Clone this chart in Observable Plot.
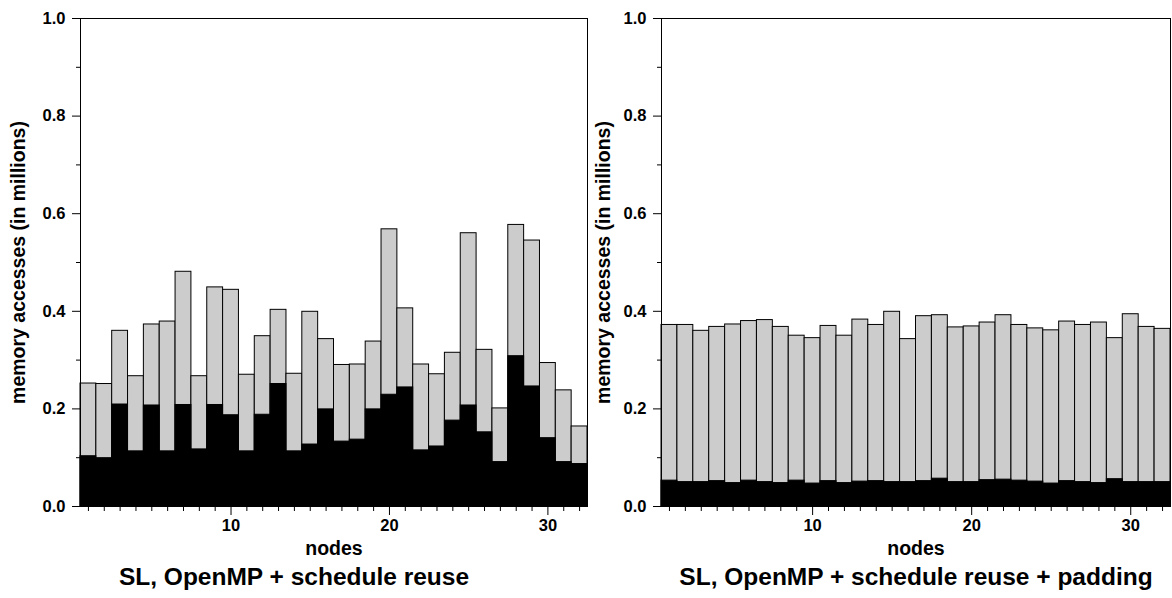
<!DOCTYPE html>
<html>
<head>
<meta charset="utf-8">
<script src="https://cdn.jsdelivr.net/npm/d3@7"></script>
<script src="https://cdn.jsdelivr.net/npm/@observablehq/plot@0.6"></script>
<style>
  html, body { margin: 0; padding: 0; background: #fff; }
  #wrap { position: relative; width: 1172px; height: 598px; overflow: hidden; }
  #wrap > div { position: absolute; top: 0; }
  #left { left: 0; }
  #right { left: 586px; }
</style>
</head>
<body>
<div id="wrap"><div id="left"></div><div id="right"></div></div>
<script>
const nodes = d3.range(1, 33);

const leftTotal = [0.252,0.251,0.360,0.267,0.373,0.379,0.481,0.267,0.449,0.444,0.270,0.349,0.403,0.272,0.399,0.343,
                   0.290,0.291,0.338,0.568,0.406,0.291,0.271,0.315,0.560,0.321,0.201,0.577,0.545,0.294,0.238,0.164];
const leftBlack = [0.103,0.099,0.209,0.113,0.207,0.113,0.208,0.117,0.208,0.187,0.113,0.188,0.251,0.113,0.127,0.199,
                   0.133,0.137,0.199,0.229,0.244,0.115,0.123,0.176,0.207,0.152,0.091,0.308,0.246,0.140,0.091,0.087];

const rightTotal = [0.372,0.372,0.360,0.368,0.373,0.380,0.382,0.368,0.350,0.345,0.370,0.350,0.383,0.372,0.399,0.343,
                    0.390,0.392,0.367,0.369,0.377,0.392,0.372,0.365,0.361,0.379,0.372,0.377,0.345,0.394,0.368,0.364];
const rightBlack = [0.053,0.050,0.050,0.052,0.048,0.053,0.050,0.048,0.053,0.047,0.052,0.048,0.051,0.052,0.050,0.050,
                    0.052,0.057,0.050,0.050,0.054,0.055,0.053,0.051,0.047,0.052,0.050,0.048,0.056,0.050,0.050,0.050];

const yMajor = [0, 0.2, 0.4, 0.6, 0.8, 1.0];
const yMinor = [0.1, 0.3, 0.5, 0.7, 0.9];
const xMajor = [10, 20, 30];
const xMinor = nodes.filter(n => n % 10 !== 0);

const yLabel = "memory accesses (in millions)";
const xLabel = "nodes";
const leftTitle = "SL, OpenMP + schedule reuse";
const rightTitle = "SL, OpenMP + schedule reuse + padding";

const FONT = "'Liberation Sans', Arial, Helvetica, sans-serif";

function panel(total, black, title, width, mLeft, mRight, yLabelDx, titleDx) {
  const data = nodes.map((n, i) => ({node: n, total: total[i], black: black[i]}));
  return Plot.plot({
    width, height: 598,
    marginLeft: mLeft, marginRight: mRight, marginTop: 18, marginBottom: 92,
    style: {fontFamily: FONT, fontWeight: "bold", color: "#000", background: "transparent", overflow: "visible"},
    x: {domain: [0.5, 32.5], axis: null},
    y: {domain: [0, 1], axis: null},
    marks: [
      Plot.rectY(data, {x1: d => d.node - 0.5, x2: d => d.node + 0.5, y1: 0, y2: "total",
        fill: "#cccccc", stroke: "#000", strokeWidth: 1, inset: 0}),
      Plot.rectY(data, {x1: d => d.node - 0.5, x2: d => d.node + 0.5, y1: 0, y2: "black",
        fill: "#000", stroke: "#000", strokeWidth: 1, inset: 0}),
      Plot.frame({stroke: "#000", strokeWidth: 1}),
      Plot.axisY({ticks: yMajor, tickSize: 8, tickPadding: 7, tickFormat: d3.format(".1f"),
        fontSize: 16.5, fontWeight: "bold", label: null, stroke: "#000"}),
      Plot.axisY({ticks: yMinor, tickSize: 4, tickFormat: () => "", label: null, stroke: "#000"}),
      Plot.axisX({ticks: xMajor, tickSize: 9, tickPadding: 4, tickFormat: d3.format("d"),
        fontSize: 16.5, fontWeight: "bold", label: null, stroke: "#000"}),
      Plot.axisX({ticks: xMinor, tickSize: 5, tickFormat: () => "", label: null, stroke: "#000"}),
      Plot.text([yLabel], {frameAnchor: "left", textAnchor: "middle", rotate: -90, dx: yLabelDx,
        fontSize: 19.5, fontWeight: "bold", fill: "#000"}),
      Plot.text([xLabel], {frameAnchor: "bottom", dy: 48, fontSize: 19.5, fontWeight: "bold", fill: "#000"}),
      Plot.text([title], {frameAnchor: "bottom", dy: 78, dx: titleDx, fontSize: 24.5, fontWeight: "bold", fill: "#000"})
    ]
  });
}

document.getElementById("left").appendChild(panel(leftTotal, leftBlack, leftTitle, 600, 80, 13, -62, -40));
document.getElementById("right").appendChild(panel(rightTotal, rightBlack, rightTitle, 586, 75, 2, -58, 0));
</script>
</body>
</html>
